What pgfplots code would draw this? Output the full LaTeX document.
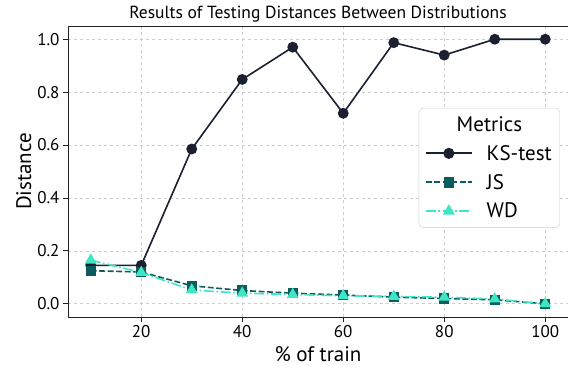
\documentclass[border=0pt]{standalone}
\usepackage{fontspec}
\setmainfont{PT Sans}
\usepackage{pgfplots}
\pgfplotsset{compat=1.18}
\definecolor{ksc}{HTML}{1B2030}
\definecolor{jsc}{HTML}{0B5C5E}
\definecolor{wdc}{HTML}{3EE6C4}
\definecolor{gridc}{HTML}{CCCCCC}
\definecolor{spinec}{HTML}{222222}
\begin{document}
\begin{tikzpicture}
\begin{axis}[
  scale only axis,
  width=500pt, height=291pt,
  xmin=5.5, xmax=104.5, ymin=-0.05, ymax=1.05,
  xtick={20,40,60,80,100},
  ytick={0,0.2,0.4,0.6,0.8,1.0},
  yticklabel style={/pgf/number format/fixed,/pgf/number format/fixed zerofill,/pgf/number format/precision=1},
  /pgf/number format/assume math mode=true,
  tick label style={font=\fontsize{17}{20}\selectfont},
  xlabel={\% of train}, ylabel={Distance},
  label style={font=\fontsize{21}{24}\selectfont},
  xlabel style={yshift=-2pt},
  ylabel style={yshift=-1pt},
  title={Results of Testing Distances Between Distributions},
  title style={font=\fontsize{17.5}{20}\selectfont, yshift=-6pt},
  grid=major,
  major grid style={gridc, dashed, line width=0.6pt},
  axis line style={spinec, line width=0.9pt},
  tick align=outside, tick pos=left,
  major tick length=5pt,
  tick style={spinec, line width=0.8pt},
  legend style={at={(0.984,0.718)}, anchor=north east, draw=gridc, rounded corners=4pt,
    font=\fontsize{21}{25}\selectfont, inner xsep=6pt, inner ysep=6pt, row sep=8.5pt,
    /tikz/every odd column/.append style={column sep=12pt}},
  legend cell align=left,
  legend image code/.code={\draw[line width=1.8pt, mark repeat=2,mark phase=2] plot coordinates {(0pt,0pt)(23pt,0pt)(46pt,0pt)};},
]
\addlegendimage{empty legend}
\addlegendentry{\hspace{-30pt}Metrics}
\addplot[ksc, line width=1.6pt, mark=*, mark size=4.6pt, mark options={solid}] coordinates {
(10,0.145)(20,0.145)(30,0.585)(40,0.848)(50,0.970)(60,0.720)(70,0.987)(80,0.940)(90,1.0)(100,1.0)};
\addlegendentry{KS-test}
\addplot[jsc, line width=1.6pt, dash pattern=on 5.9pt off 2.6pt, mark=square*, mark size=4.3pt, mark options={solid}] coordinates {
(10,0.125)(20,0.120)(30,0.068)(40,0.050)(50,0.040)(60,0.033)(70,0.025)(80,0.020)(90,0.015)(100,0.0)};
\addlegendentry{JS}
\addplot[wdc, line width=1.6pt, dash pattern=on 10pt off 2.6pt on 1.6pt off 2.6pt, mark=triangle*, mark size=5.2pt, mark options={solid}] coordinates {
(10,0.165)(20,0.118)(30,0.052)(40,0.040)(50,0.035)(60,0.030)(70,0.028)(80,0.025)(90,0.018)(100,0.0)};
\addlegendentry{WD}
\end{axis}
\pgfresetboundingbox
\path (-68pt,-55pt) rectangle (500pt,317pt);
\end{tikzpicture}
\end{document}
